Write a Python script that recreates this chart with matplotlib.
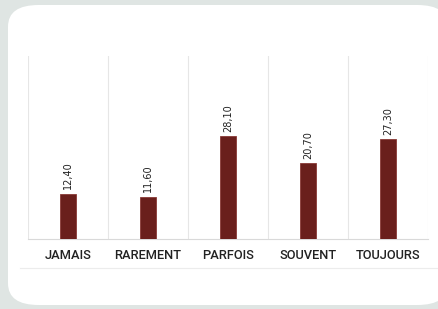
import matplotlib
matplotlib.use("Agg")
import matplotlib.pyplot as plt
from matplotlib.patches import FancyBboxPatch
from matplotlib.lines import Line2D

# donnees
categories = ["JAMAIS", "RAREMENT", "PARFOIS", "SOUVENT", "TOUJOURS"]
values = [12.40, 11.60, 28.10, 20.70, 27.30]
labels = ["12,40", "11,60", "28,10", "20,70", "27,30"]

bar_color = "#6a1f1c"
bg_color = "#dfe5e3"

fig = plt.figure(figsize=(4.38, 3.09), dpi=100)
fig.patch.set_facecolor(bg_color)

# carte blanche arrondie
card = FancyBboxPatch((8 / 438, 4 / 309), 440 / 438, 300 / 309,
                      boxstyle="round,pad=0,rounding_size=0.07",
                      transform=fig.transFigure, facecolor="white",
                      edgecolor="none", zorder=-10)
fig.add_artist(card)

# ligne sous les etiquettes
fig.add_artist(Line2D([20 / 438, 1.0], [1 - 268 / 309, 1 - 268 / 309],
                      transform=fig.transFigure, color="#ececec",
                      linewidth=0.8, zorder=-5))

ax = fig.add_axes([28 / 438, 70 / 309, 400 / 438, 183 / 309])
ax.set_zorder(1)
ax.set_facecolor("none")

x = range(len(categories))
ax.bar(x, values, width=0.19, color=bar_color, edgecolor="#8a3a36", linewidth=0.6, zorder=3)

for i, (v, lab) in enumerate(zip(values, labels)):
    ax.annotate(lab, (i, v), xytext=(0, 3), textcoords="offset points",
                rotation=90, ha="center", va="bottom", fontsize=7,
                color="#222222", family="DejaVu Sans")

ax.set_xlim(-0.5, 4.5)
ax.set_ylim(0, 50)

# lignes verticales entre categories
for b in [-0.5, 0.5, 1.5, 2.5, 3.5, 4.5]:
    ax.axvline(b, color="#e6e6e6", linewidth=0.8, zorder=1)

for s in ["top", "left", "right"]:
    ax.spines[s].set_visible(False)
ax.spines["bottom"].set_color("#d9d9d9")
ax.spines["bottom"].set_linewidth(0.8)

ax.set_yticks([])
ax.set_xticks(list(x))
ax.set_xticklabels(categories, fontsize=9.3, color="#222222",
                   family="Roboto", fontweight="medium")
ax.tick_params(axis="x", length=0, pad=7)

fig.savefig("out.png", dpi=100, facecolor=fig.get_facecolor())
